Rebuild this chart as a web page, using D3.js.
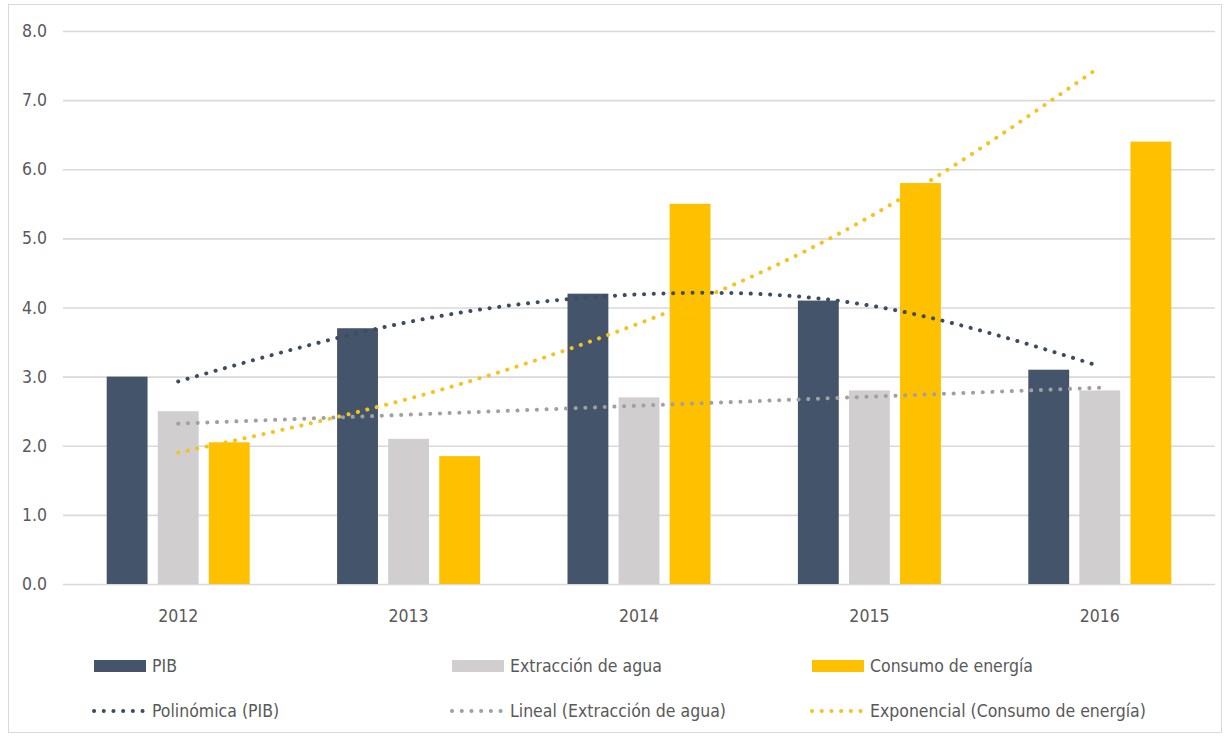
<!DOCTYPE html>
<html>
<head>
<meta charset="utf-8">
<script src="https://cdn.jsdelivr.net/npm/d3@7"></script>
<style>
    body { margin: 0; background: #fff; }
    text { font-family: "Liberation Sans Narrow", "DejaVu Sans Condensed", sans-serif; fill: #595959; }
</style>
</head>
<body>
<div id="chart"></div>
<script>
/* data */
var years = ["2012", "2013", "2014", "2015", "2016"];
var pib = [3.0, 3.7, 4.2, 4.1, 3.1];
var agua = [2.5, 2.1, 2.7, 2.8, 2.8];
var energia = [2.05, 1.85, 5.5, 5.8, 6.4];
var trendPib = [2.93, 3.79, 4.19, 4.03, 3.15];
var trendAgua = [2.32, 2.45, 2.58, 2.71, 2.84];
var trendEnergia = [1.90, 2.68, 3.77, 5.31, 7.48];
var yTicks = [0, 1, 2, 3, 4, 5, 6, 7, 8];

var seriesNames = ["PIB", "Extracción de agua", "Consumo de energía"];
var trendNames = ["Polinómica (PIB)", "Lineal (Extracción de agua)", "Exponencial (Consumo de energía)"];

function plotChart() {
    var width = 1227,
        height = 740;

    var svg = d3.select("#chart").append("svg")
        .attr("width", width)
        .attr("height", height);

    // outer frame
    svg.append("rect")
        .attr("x", 8.5)
        .attr("y", 4.5)
        .attr("width", 1213)
        .attr("height", 728)
        .attr("fill", "none")
        .attr("stroke", "#d9d9d9");

    var barColor = d3.scaleOrdinal()
        .domain(seriesNames)
        .range(["#44546A", "#D0CECE", "#FFC000"]);
    var dotColor = ["#3E4C61", "#A0A0A0", "#F7C21B"];

    var x0 = d3.scaleBand()
        .domain(years)
        .range([63, 1215]);

    var gw = 143;
    var x1 = d3.scaleBand()
        .domain(seriesNames)
        .range([(x0.bandwidth() - gw) / 2, (x0.bandwidth() + gw) / 2])
        .paddingInner(0.2);

    var y = d3.scaleLinear()
        .domain([0, 8])
        .range([584, 31]);

    // grid + y labels
    var yAxis = svg.append("g")
        .attr("transform", "translate(63,0)")
        .call(d3.axisLeft(y)
            .tickValues(yTicks)
            .tickSize(-1152)
            .tickPadding(16)
            .tickFormat(d3.format(".1f")));
    yAxis.select(".domain").remove();
    yAxis.selectAll(".tick line")
        .attr("stroke", "#d9d9d9")
        .attr("stroke-width", 1.6);
    yAxis.selectAll(".tick text")
        .attr("font-size", 17.5)
        .attr("fill", "#595959");

    // x labels
    var xAxis = svg.append("g")
        .attr("transform", "translate(0,584)")
        .call(d3.axisBottom(x0).tickSize(0).tickPadding(26));
    xAxis.select(".domain").remove();
    xAxis.selectAll(".tick text")
        .attr("font-size", 17.5)
        .attr("fill", "#595959");

    var rows = years.map(function(yr, i) {
        return {
            year: yr,
            values: [pib[i], agua[i], energia[i]]
        };
    });

    // bars
    var group = svg.selectAll(".group")
        .data(rows)
        .enter().append("g")
        .attr("class", "group")
        .attr("transform", function(d) {
            return "translate(" + x0(d.year) + ",0)";
        });

    group.selectAll("rect")
        .data(function(d) {
            return seriesNames.map(function(name, k) {
                return { name: name, value: d.values[k] };
            });
        })
        .enter().append("rect")
        .attr("x", function(d) { return x1(d.name); })
        .attr("y", function(d) { return y(d.value); })
        .attr("width", x1.bandwidth())
        .attr("height", function(d) { return y(0) - y(d.value); })
        .attr("fill", function(d) { return barColor(d.name); });

    // trend lines
    var line = d3.line()
        .x(function(d, i) { return x0(years[i]) + x0.bandwidth() / 2; })
        .y(function(d) { return y(d); })
        .curve(d3.curveNatural);

    var trends = [trendPib, trendAgua, trendEnergia];
    svg.selectAll(".trend")
        .data(trends)
        .enter().append("path")
        .attr("class", "trend")
        .attr("d", line)
        .attr("fill", "none")
        .attr("stroke", function(d, i) { return dotColor[i]; })
        .attr("stroke-width", 4)
        .attr("stroke-linecap", "round")
        .attr("stroke-dasharray", "0.1 9.6");

    // legend
    var legX = [94, 452, 812];

    var legend = svg.selectAll(".legend")
        .data(seriesNames)
        .enter().append("g")
        .attr("class", "legend")
        .attr("transform", function(d, i) {
            return "translate(" + legX[i] + ",0)";
        });

    legend.append("rect")
        .attr("x", 0)
        .attr("y", 660)
        .attr("width", 52)
        .attr("height", 12)
        .attr("fill", barColor);

    legend.append("text")
        .attr("x", 58)
        .attr("y", 666)
        .attr("dy", ".35em")
        .attr("font-size", 17.5)
        .text(function(d) { return d; });

    var legend2 = svg.selectAll(".legend2")
        .data(trendNames)
        .enter().append("g")
        .attr("class", "legend2")
        .attr("transform", function(d, i) {
            return "translate(" + legX[i] + ",0)";
        });

    legend2.append("line")
        .attr("x1", 0)
        .attr("x2", 51)
        .attr("y1", 711)
        .attr("y2", 711)
        .attr("stroke", function(d, i) { return dotColor[i]; })
        .attr("stroke-width", 4)
        .attr("stroke-linecap", "round")
        .attr("stroke-dasharray", "0.1 9.6");

    legend2.append("text")
        .attr("x", 58)
        .attr("y", 711)
        .attr("dy", ".35em")
        .attr("font-size", 17.5)
        .text(function(d) { return d; });
}

plotChart();
</script>
</body>
</html>
